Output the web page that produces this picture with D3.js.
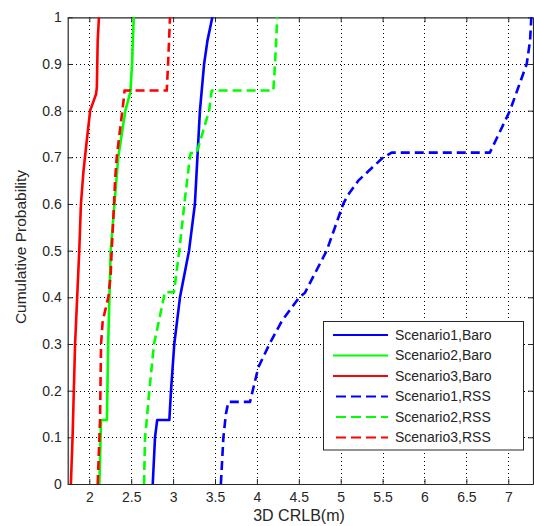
<!DOCTYPE html>
<html>
<head>
<meta charset="utf-8">
<script src="https://cdn.jsdelivr.net/npm/d3@7"></script>
<style>
  body { margin: 0; background: #fff; }
  svg { display: block; }
  text { font-family: Arial, "Liberation Sans", sans-serif; fill: #262626; }
</style>
</head>
<body>
<svg id="chart" width="534" height="526"></svg>
<script>
// ---- data ----
const xTicks = [2, 2.5, 3, 3.5, 4, 4.5, 5, 5.5, 6, 6.5, 7];
const yTicks = [0, 0.1, 0.2, 0.3, 0.4, 0.5, 0.6, 0.7, 0.8, 0.9, 1];
const xDomain = [1.742, 7.295];
const yDomain = [0, 1];
const seriesNames = ["Scenario1,Baro", "Scenario2,Baro", "Scenario3,Baro",
                     "Scenario1,RSS", "Scenario2,RSS", "Scenario3,RSS"];
const seriesColors = ["#0000ff", "#00ff00", "#ff0000", "#0000ff", "#00ff00", "#ff0000"];
const seriesDashed = [false, false, false, true, true, true];

const scen1Baro = [[2.757,0],[2.784,0.1],[2.81,0.137],[2.955,0.137],[2.975,0.2],[3.014,0.3],
  [3.082,0.4],[3.19,0.5],[3.26,0.6],[3.29,0.7],[3.32,0.8],[3.37,0.9],[3.41,0.95],[3.468,1]];
const scen2Baro = [[2.12,0],[2.14,0.137],[2.21,0.137],[2.225,0.3],[2.24,0.4],[2.255,0.5],
  [2.30,0.6],[2.345,0.7],[2.43,0.8],[2.49,0.84],[2.51,0.9],[2.53,1]];
const scen3Baro = [[1.78,0],[1.80,0.1],[1.83,0.3],[1.855,0.4],[1.88,0.5],[1.90,0.6],
  [1.93,0.67],[1.96,0.72],[2.01,0.8],[2.08,0.835],[2.09,0.85],[2.10,0.95],[2.115,1]];
const scen1RSS = [[3.57,0],[3.60,0.1],[3.63,0.15],[3.66,0.176],[3.918,0.176],[3.95,0.2],
  [4.017,0.25],[4.15,0.3],[4.30,0.35],[4.506,0.4],[4.574,0.41],[4.833,0.5],[5.03,0.6],
  [5.09,0.62],[5.21,0.65],[5.508,0.7],[5.608,0.71],[6.78,0.71],[7.02,0.8],[7.22,0.9],
  [7.26,0.95],[7.275,1]];
const scen2RSS = [[2.653,0],[2.665,0.1],[2.685,0.137],[2.716,0.2],[2.772,0.3],[2.89,0.4],
  [2.9,0.411],[3.01,0.411],[3.074,0.5],[3.134,0.6],[3.20,0.7],[3.21,0.709],[3.28,0.709],
  [3.43,0.8],[3.46,0.843],[4.196,0.843],[4.216,0.9],[4.243,1]];
const scen3RSS = [[2.10,0],[2.128,0.137],[2.14,0.3],[2.16,0.35],[2.187,0.37],[2.227,0.4],
  [2.255,0.45],[2.267,0.5],[2.295,0.6],[2.307,0.65],[2.327,0.7],[2.394,0.8],[2.418,0.835],
  [2.42,0.843],[2.924,0.843],[2.94,0.9],[2.963,1]];
const seriesData = [scen1Baro, scen2Baro, scen3Baro, scen1RSS, scen2RSS, scen3RSS];

// ---- layout ----
const L = 67.7, R = 533, T = 17.3, B = 484;
const svg = d3.select("#chart");
const x = d3.scaleLinear().domain(xDomain).range([L, R]);
const y = d3.scaleLinear().domain(yDomain).range([B, T]);

// grid
const grid = svg.append("g").attr("stroke", "#000").attr("stroke-width", 1)
  .attr("stroke-dasharray", "1,3").attr("shape-rendering", "crispEdges");
grid.selectAll("line.gx").data(xTicks).join("line")
  .attr("x1", d => Math.round(x(d)) + 0.5).attr("x2", d => Math.round(x(d)) + 0.5)
  .attr("y1", T).attr("y2", B);
grid.selectAll("line.gy").data(yTicks.filter(d => d > 0 && d < 1)).join("line")
  .attr("y1", d => Math.round(y(d)) + 0.5).attr("y2", d => Math.round(y(d)) + 0.5)
  .attr("x1", L).attr("x2", R);

// axes
const fmt = d => d3.format("~g")(d);
const axB = svg.append("g").attr("transform", `translate(0,${B})`)
  .call(d3.axisBottom(x).tickValues(xTicks).tickFormat(fmt).tickSizeInner(-5).tickSizeOuter(0).tickPadding(8));
const axT = svg.append("g").attr("transform", `translate(0,${T})`)
  .call(d3.axisTop(x).tickValues(xTicks).tickFormat("").tickSizeInner(-5).tickSizeOuter(0));
const axL = svg.append("g").attr("transform", `translate(${L},0)`)
  .call(d3.axisLeft(y).tickValues(yTicks).tickFormat(fmt).tickSizeInner(-5).tickSizeOuter(0).tickPadding(6));
const axR = svg.append("g").attr("transform", `translate(${R},0)`)
  .call(d3.axisRight(y).tickValues(yTicks).tickFormat("").tickSizeInner(-5).tickSizeOuter(0));
[axB, axT, axL, axR].forEach(a => {
  a.selectAll("path.domain").attr("stroke", "#262626").attr("stroke-width", 1.2);
  a.selectAll(".tick line").attr("stroke", "#262626");
  a.selectAll("text").attr("font-size", 14).attr("fill", "#262626")
    .style("font-family", "Arial, 'Liberation Sans', sans-serif");
});

// series lines
const line = d3.line().x(d => x(d[0])).y(d => y(d[1]));
const plot = svg.append("g");
seriesData.forEach((data, i) => {
  plot.append("path").datum(data)
    .attr("d", line).attr("fill", "none")
    .attr("stroke", seriesColors[i]).attr("stroke-width", 2.6)
    .attr("stroke-linejoin", "round")
    .attr("stroke-dasharray", seriesDashed[i] ? "9,5" : null);
});

// axis labels
svg.append("text").attr("x", 299).attr("y", 521).attr("text-anchor", "middle")
  .attr("font-size", 16).text("3D CRLB(m)");
svg.append("text").attr("transform", `translate(26,247) rotate(-90)`)
  .attr("text-anchor", "middle").attr("font-size", 15.5).text("Cumulative Probability");

// legend
const lg = svg.append("g");
lg.append("rect").attr("x", 323.5).attr("y", 321.5).attr("width", 200).attr("height", 128.5)
  .attr("fill", "#fff").attr("stroke", "#262626").attr("stroke-width", 1);
const rowY = i => 335 + i * 20.5;
seriesNames.forEach((name, i) => {
  lg.append("line").attr("x1", 333).attr("x2", 388).attr("y1", rowY(i)).attr("y2", rowY(i))
    .attr("stroke", seriesColors[i]).attr("stroke-width", 2)
    .attr("stroke-dasharray", seriesDashed[i] ? "10,5" : null)
    .attr("stroke-dashoffset", seriesDashed[i] ? -3 : null);
  lg.append("text").attr("x", 395).attr("y", rowY(i)).attr("dy", "0.35em")
    .attr("font-size", 14).text(name);
});
</script>
</body>
</html>
